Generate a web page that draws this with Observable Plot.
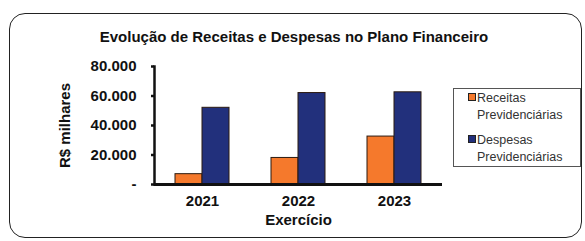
<!DOCTYPE html>
<html><head><meta charset="utf-8">
<script src="https://cdn.jsdelivr.net/npm/d3@7"></script>
<script src="https://cdn.jsdelivr.net/npm/@observablehq/plot@0.6"></script>
<style>
html,body{margin:0;padding:0;background:#fff;}
#wrap{position:relative;width:585px;height:241px;overflow:hidden;font-family:"Liberation Sans",Arial,sans-serif;}
#border{position:absolute;left:9px;top:13px;width:571px;height:223px;border:1.6px solid #222;border-radius:16px;}
#title{position:absolute;left:0;width:588px;top:28px;text-align:center;font-weight:bold;font-size:15px;color:#111;}
#legend{position:absolute;left:453px;top:88px;width:128px;height:79px;border:1px solid #555;font-size:12.5px;color:#333;box-sizing:border-box;}
.li{position:absolute;left:14px;line-height:17px;}
.sw{display:inline-block;width:6px;height:6px;border:1px solid #222;margin-right:1px;vertical-align:1px;}
#chart{position:absolute;left:0;top:0;}
</style></head>
<body><div id="wrap"><div id="border"></div><div id="title"></div><div id="chart"></div><div id="legend"></div></div>
<script>
const title = "Evolução de Receitas e Despesas no Plano Financeiro";
const years = ["2021", "2022", "2023"];
const series = ["Receitas Previdenciárias", "Despesas Previdenciárias"];
const legendLines = [["Receitas", "Previdenciárias"], ["Despesas", "Previdenciárias"]];
const receitas = [7000, 18000, 32500];
const despesas = [52000, 62000, 62500];
const yTicks = [0, 20000, 40000, 60000, 80000];
const colors = ["#f5792c", "#22307c"];

const rows = [];
years.forEach((yr, i) => {
  rows.push({year: yr, series: series[0], value: receitas[i]});
  rows.push({year: yr, series: series[1], value: despesas[i]});
});

document.getElementById("title").textContent = title;
const lg = document.getElementById("legend");
legendLines.forEach((ls, i) => {
  const d = document.createElement("div");
  d.className = "li";
  d.style.top = (1 + i * 42) + "px";
  d.innerHTML = `<span class="sw" style="background:${colors[i]}"></span>${ls[0]}<br><span style="padding-left:9px">${ls[1]}</span>`;
  lg.appendChild(d);
});

const fmt = d => d === 0 ? "-" : d3.format(",")(d).replace(/,/g, ".");
const chart = Plot.plot({
  width: 585, height: 241,
  marginLeft: 154, marginRight: 143, marginTop: 66, marginBottom: 57,
  style: {fontFamily: "'Liberation Sans', Arial, sans-serif", fontSize: "15px", fontWeight: "bold", background: "transparent", color: "#111"},
  fx: {domain: years, padding: 0},
  x: {domain: series, paddingInner: 0, paddingOuter: 0.72},
  y: {domain: [0, 80000]},
  color: {domain: series, range: colors},
  marks: [
    Plot.barY(rows, {fx: "year", x: "series", y: "value", fill: "series", stroke: "#2b1a10", strokeWidth: 1}),
    Plot.frame({anchor: "left", facetAnchor: "left", stroke: "#111", strokeWidth: 2.5}),
    Plot.ruleY([0], {strokeWidth: 3, stroke: "#111"}),
    Plot.axisY({ticks: yTicks, tickFormat: fmt, tickSize: 3, tickPadding: 15, strokeWidth: 2.5,
      label: "R$ milhares", labelAnchor: "center", labelOffset: 95, labelArrow: "none", fontSize: 15}),
    Plot.axisFx({anchor: "bottom", tickSize: 0, tickPadding: 11, label: "Exercício", labelAnchor: "center",
      labelOffset: 40, labelArrow: "none", fontSize: 15}),
    Plot.axisX({ticks: [], label: null})
  ]
});
document.getElementById("chart").appendChild(chart);
</script></body></html>
